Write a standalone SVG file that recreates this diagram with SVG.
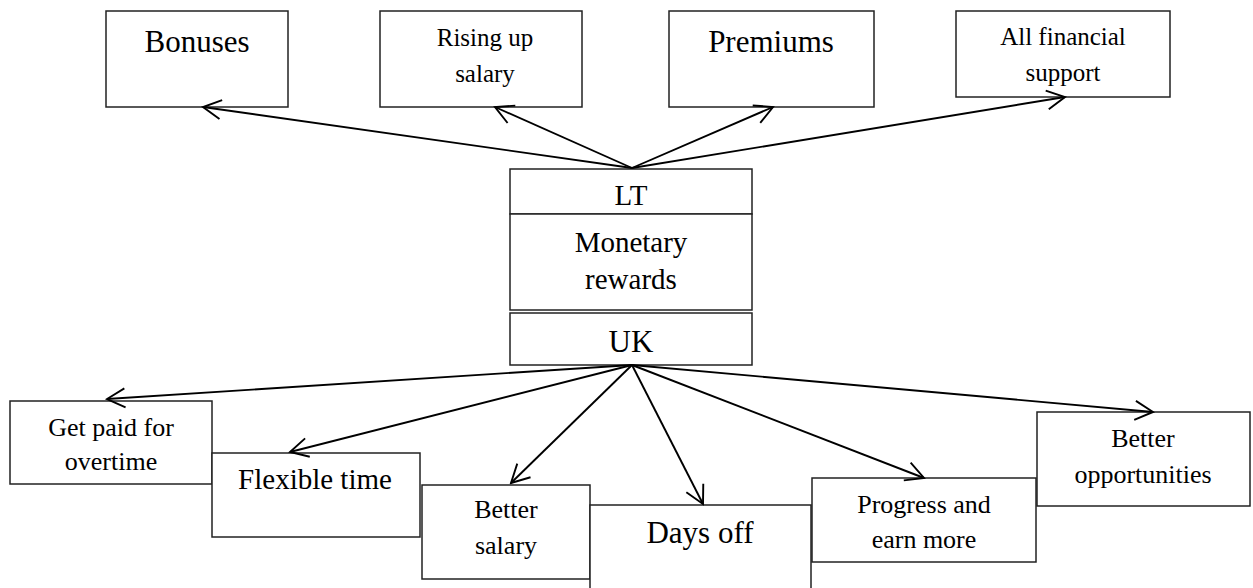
<svg xmlns="http://www.w3.org/2000/svg" width="1253" height="588" viewBox="0 0 1253 588">
<style>
rect{fill:#fff;stroke:#222;stroke-width:1.5}
text{font-family:"Liberation Serif","Times New Roman",serif;fill:#000;text-anchor:middle}
.s{font-size:25px}
.m{font-size:26px}
.l{font-size:31px}
.c{font-size:29px}
#connectors line{stroke:#000;stroke-width:1.9;marker-end:url(#arr)}
</style>
<defs>
<marker id="arr" markerUnits="userSpaceOnUse" viewBox="-22 -12 24 24" markerWidth="24" markerHeight="24" refX="0" refY="0" orient="auto">
<path d="M-18,-9.5 L0,0 L-18,9.5" fill="none" stroke="#000" stroke-width="1.9"/>
</marker>
</defs>
<g id="bonuses"><rect x="106" y="11" width="182" height="96"/><text class="l" x="197" y="52">Bonuses</text></g>
<g id="rising"><rect x="380" y="11" width="202" height="96"/><text class="s" x="485" y="46">Rising up</text><text class="s" x="485" y="82">salary</text></g>
<g id="premiums"><rect x="669" y="11" width="205" height="96"/><text class="l" x="771" y="52">Premiums</text></g>
<g id="allfin"><rect x="956" y="11" width="214" height="86"/><text class="s" x="1063" y="45">All financial</text><text class="s" x="1063" y="81">support</text></g>
<g id="center">
<rect x="510" y="169" width="242" height="45"/><text class="c" x="631" y="205">LT</text>
<rect x="510" y="214" width="242" height="96"/><text class="c" x="631" y="252">Monetary</text><text class="c" x="631" y="289">rewards</text>
<rect x="510" y="313" width="242" height="52"/><text class="l" x="631" y="352">UK</text>
</g>
<g id="getpaid"><rect x="10" y="401" width="202" height="83"/><text class="m" x="111" y="436">Get paid for</text><text class="m" x="111" y="470">overtime</text></g>
<g id="flexible"><rect x="212" y="453" width="208" height="84"/><text class="c" x="315" y="489">Flexible time</text></g>
<g id="bettersalary"><rect x="422" y="485" width="168" height="94"/><text class="m" x="506" y="518">Better</text><text class="m" x="506" y="554">salary</text></g>
<g id="daysoff"><rect x="590" y="505" width="221" height="100"/><text class="l" x="700" y="543">Days off</text></g>
<g id="progress"><rect x="812" y="478" width="224" height="84"/><text class="m" x="924" y="513">Progress and</text><text class="m" x="924" y="548">earn more</text></g>
<g id="betteropp"><rect x="1037" y="412" width="213" height="94"/><text class="m" x="1143" y="447">Better</text><text class="m" x="1143" y="483">opportunities</text></g>
<g id="connectors">
<line x1="632" y1="168" x2="203" y2="107"/>
<line x1="632" y1="168" x2="495" y2="107"/>
<line x1="632" y1="168" x2="773" y2="107"/>
<line x1="632" y1="168" x2="1065" y2="97"/>
<line x1="632" y1="365" x2="107" y2="399"/>
<line x1="632" y1="365" x2="290" y2="452"/>
<line x1="632" y1="365" x2="511" y2="483"/>
<line x1="632" y1="365" x2="703" y2="504"/>
<line x1="632" y1="365" x2="924" y2="478"/>
<line x1="632" y1="365" x2="1153" y2="412"/>
</g>
</svg>
